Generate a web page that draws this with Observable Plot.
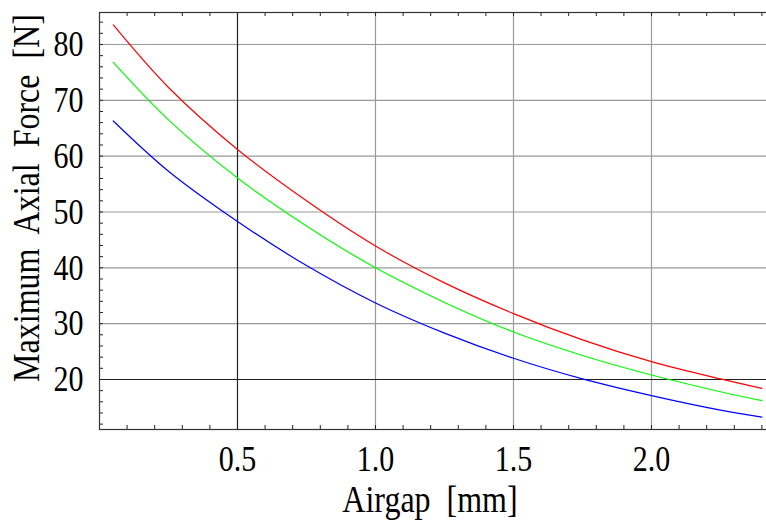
<!DOCTYPE html>
<html><head><meta charset="utf-8">
<script src="https://cdn.jsdelivr.net/npm/d3@7"></script>
<script src="https://cdn.jsdelivr.net/npm/@observablehq/plot@0.6"></script>
<style>body{margin:0;background:#fff}</style>
</head><body><div id="chart"></div>
<script>
const airgap     = [0.05, 0.25, 0.5, 0.75, 1.0, 1.25, 1.5, 1.75, 2.0, 2.25, 2.4];
const forceRed   = [83.5, 72.3, 61.2, 52.0, 43.9, 37.3, 31.8, 27.1, 23.2, 20.1, 18.4];
const forceGreen = [76.8, 66.5, 56.1, 47.5, 40.0, 33.8, 28.5, 24.3, 20.8, 17.8, 16.2];
const forceBlue  = [66.3, 57.3, 48.3, 40.4, 33.7, 28.3, 23.8, 20.1, 17.1, 14.5, 13.25];
const seriesNames = ["Curve A", "Curve B", "Curve C"];
const seriesColors = ["#ff0000", "#00ff00", "#0000ff"];
const xTickValues = [0.5, 1.0, 1.5, 2.0];
const yTickValues = [20, 30, 40, 50, 60, 70, 80];
const xLabel = "Airgap\u00a0 [mm]";
const yLabel = "Maximum\u00a0 Axial\u00a0 Force\u00a0 [N]";

const seriesValues = [forceRed, forceGreen, forceBlue];
const data = [];
seriesNames.forEach((s, k) => airgap.forEach((x, i) => data.push({series: s, x, y: seriesValues[k][i]})));

const xDomain = [0, 2.4312];
const yDomain = [11.04, 85.73];
const xMinor = d3.range(1, 25).map(i => i / 10);
const yMinor = d3.range(12, 86, 2);
const W = 766, H = 524, mL = 99, mR = -4, mT = 12, mB = 95;
const pw = W - mL - mR, ph = H - mT - mB;

const chart = Plot.plot({
  width: W, height: H,
  marginLeft: mL, marginRight: mR, marginTop: mT, marginBottom: mB,
  style: {fontFamily: "'Liberation Serif', 'Times New Roman', serif", fontSize: "30px", background: "#fff", color: "#000"},
  x: {domain: xDomain, axis: null},
  y: {domain: yDomain, axis: null},
  color: {domain: seriesNames, range: seriesColors},
  marks: [
    Plot.ruleY(yTickValues.filter(d => d !== 20), {stroke: "#9a9a9a", strokeWidth: 1.2}),
    Plot.ruleX(xTickValues.filter(d => d !== 0.5), {stroke: "#9a9a9a", strokeWidth: 1.2}),
    Plot.ruleY([20], {stroke: "#222", strokeWidth: 1.2}),
    Plot.ruleX([0.5], {stroke: "#222", strokeWidth: 1.2}),
    Plot.tickX(xMinor, {x: d => d, insetTop: ph - 4, stroke: "#222"}),
    Plot.tickX(xMinor, {x: d => d, insetBottom: ph - 4, stroke: "#222"}),
    Plot.tickY(yMinor, {y: d => d, insetRight: pw - 4, stroke: "#222"}),
    Plot.line(data, {x: "x", y: "y", z: "series", stroke: "series", strokeWidth: 1.2, curve: "catmull-rom"}),
    Plot.frame({stroke: "#333", strokeWidth: 1.2}),
    Plot.axisX({ticks: xTickValues, tickFormat: d3.format(".1f"), tickSize: 0, tickPadding: 18, fontSize: 30, label: null}),
    Plot.axisY({ticks: yTickValues, tickSize: 0, tickPadding: 16, fontSize: 30, label: null}),
    Plot.text([xLabel], {frameAnchor: "bottom", dx: -5, dy: 80, fontSize: 32, fill: "#000"}),
    Plot.text([yLabel], {frameAnchor: "left", textAnchor: "middle", rotate: -90, dx: -73, dy: -23, fontSize: 32, fill: "#000"})
  ]
});
document.getElementById("chart").appendChild(chart);
// taller glyphs, as in the reference rendering
d3.select(chart).selectAll("text").each(function() {
  const b = this.getBBox();
  const cx = b.x + b.width / 2, cy = b.y + b.height / 2;
  const t = this.getAttribute("transform") || "";
  this.setAttribute("transform", `${t} translate(${cx},${cy}) scale(1,1.2) translate(${-cx},${-cy})`);
});
</script>
</body></html>
